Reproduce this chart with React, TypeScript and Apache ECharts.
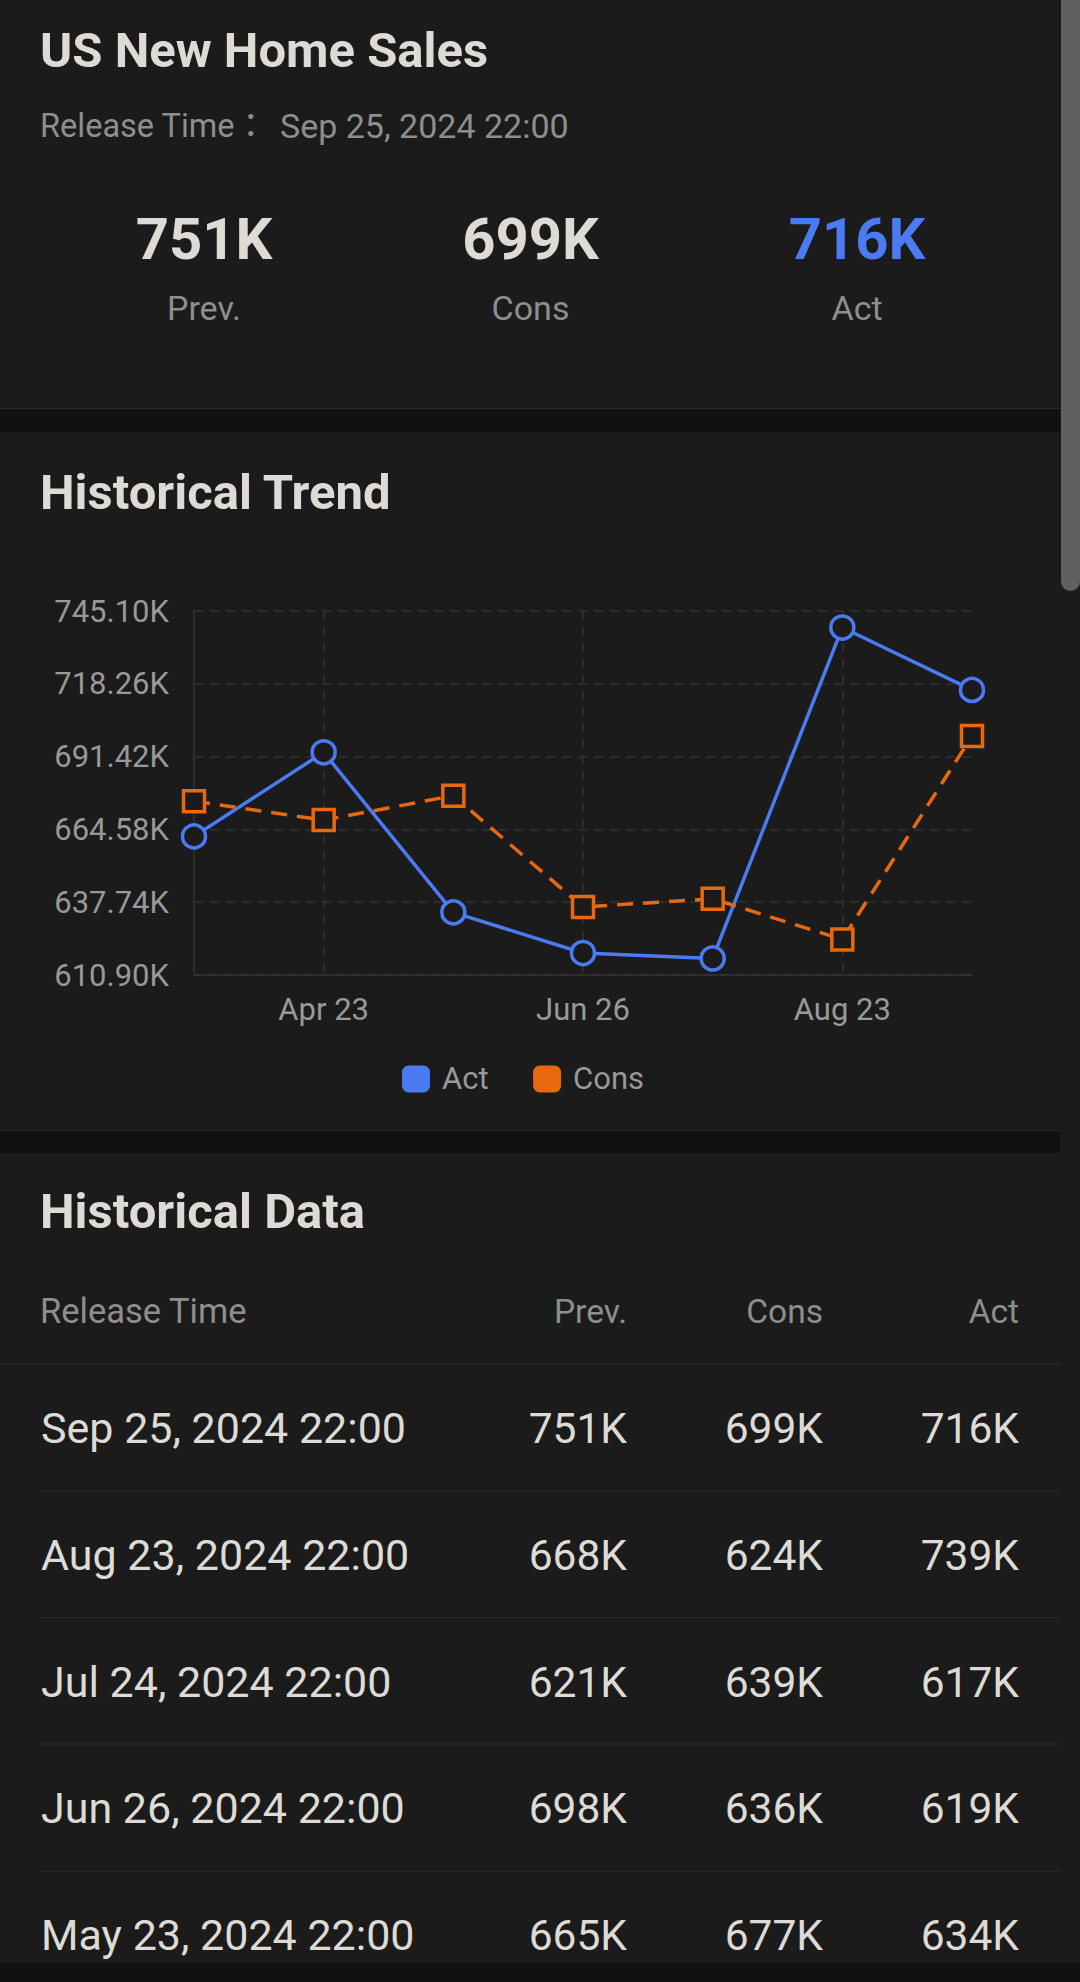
import React, { useEffect, useRef } from "react";
import * as echarts from "echarts";

// ---------- data ----------
const pageTitle = "US New Home Sales";
const releaseLabel = "Release Time：";
const releaseValue = "Sep 25, 2024 22:00";
const summaryLabels = ["Prev.", "Cons", "Act"];
const summaryValues = ["751K", "699K", "716K"];

const releaseDates = ["Mar 25", "Apr 23", "May 23", "Jun 26", "Jul 24", "Aug 23", "Sep 25"];
const actValues = [662000, 693000, 634000, 619000, 617000, 739000, 716000];
const consValues = [675000, 668000, 677000, 636000, 639000, 624000, 699000];
const yAxisMin = 610900;
const yAxisMax = 745100;
const yAxisStep = 26840;

const tableHeaders = ["Release Time", "Prev.", "Cons", "Act"];
const tableDates = [
  "Sep 25, 2024 22:00",
  "Aug 23, 2024 22:00",
  "Jul 24, 2024 22:00",
  "Jun 26, 2024 22:00",
  "May 23, 2024 22:00",
];
const tablePrev = ["751K", "668K", "621K", "698K", "665K"];
const tableCons = ["699K", "624K", "639K", "636K", "677K"];
const tableAct = ["716K", "739K", "617K", "619K", "634K"];

// ---------- styles ----------
const FONT = "Roboto, 'Noto Sans CJK JP', sans-serif";
const BAND = "#111112";
const CARD = "#1b1b1b";
const TEXT = "#dedbd6";
const MUTED = "#8e8e8e";
const AXIS_TEXT = "#999999";
const BLUE = "#4b7bf3";
const ORANGE = "#e8680f";
const GRID = "#333333";
const ROWLINE = "#272727";

function txt(text: string, x: number, y: number, font: string, fill: string, align = "left") {
  return {
    type: "text",
    x,
    y,
    z: 10,
    silent: true,
    style: {
      text,
      font,
      fill,
      align,
      verticalAlign: "middle",
      textAlign: align,
      textVerticalAlign: "middle",
    },
  };
}

function rect(x: number, y: number, w: number, h: number, fill: string, r: any = 0) {
  return { type: "rect", z: -10, silent: true, shape: { x, y, width: w, height: h, r }, style: { fill } };
}

function hline(x1: number, x2: number, y: number, stroke: string, w = 1.5) {
  return { type: "line", z: -5, silent: true, shape: { x1, y1: y, x2, y2: y }, style: { stroke, lineWidth: w } };
}

export default function App() {
  const ref = useRef<HTMLDivElement>(null);

  useEffect(() => {
    if (!ref.current) return;
    const chart = echarts.init(ref.current, undefined, { renderer: "svg" });

    const colCenters = [204, 530.5, 857];
    const rowCenters = [1428, 1555, 1682, 1808, 1935];
    const rowLines = [1491, 1617.5, 1744, 1871];
    const colRights = [627, 823, 1019];

    const elements: any[] = [
      rect(0, 0, 1080, 1982, BAND),
      rect(0, 0, 1060, 408, CARD),
      rect(0, 432, 1060, 698, CARD),
      rect(0, 1153, 1060, 810, CARD),
      rect(1060, 0, 20, 1963, CARD),
      rect(1061, -20, 19, 611, "#606060", [0, 0, 9.5, 9.5]),
      hline(0, 1060, 408.5, "#262626", 1),
      hline(0, 1060, 1130.5, "#262626", 1),
      txt(pageTitle, 40, 50, `bold 49px ${FONT}`, TEXT),
      txt(releaseLabel, 40, 126, `32.5px ${FONT}`, MUTED),
      txt(releaseValue, 280, 126, `34px ${FONT}`, MUTED),
      txt("Historical Trend", 40, 492.5, `bold 49px ${FONT}`, TEXT),
      txt("Historical Data", 40, 1211, `bold 49px ${FONT}`, TEXT),
      hline(0, 1060, 1364, ROWLINE),
    ];

    summaryValues.forEach((v, i) => {
      elements.push(txt(v, colCenters[i], 238.5, `bold 58px ${FONT}`, i === 2 ? BLUE : TEXT, "center"));
      elements.push(txt(summaryLabels[i], colCenters[i], 308, `34px ${FONT}`, MUTED, "center"));
    });

    elements.push(txt(tableHeaders[0], 40, 1311, `34.5px ${FONT}`, MUTED));
    for (let i = 1; i < tableHeaders.length; i++) {
      elements.push(txt(tableHeaders[i], colRights[i - 1], 1311, `33.5px ${FONT}`, MUTED, "right"));
    }
    rowLines.forEach((y) => elements.push(hline(40, 1060, y, ROWLINE)));
    tableDates.forEach((d, i) => {
      const y = rowCenters[i];
      elements.push(txt(d, 41, y, `43px ${FONT}`, TEXT));
      elements.push(txt(tablePrev[i], colRights[0], y, `42.5px ${FONT}`, TEXT, "right"));
      elements.push(txt(tableCons[i], colRights[1], y, `42.5px ${FONT}`, TEXT, "right"));
      elements.push(txt(tableAct[i], colRights[2], y, `42.5px ${FONT}`, TEXT, "right"));
    });

    const oddOnly = (idx: number) => idx % 2 === 1;

    chart.setOption({
      animation: false,
      backgroundColor: BAND,
      graphic: { elements },
      grid: { left: 194, top: 611, width: 778, height: 364, containLabel: false },
      legend: {
        left: 397,
        top: 1058.5,
        icon: "roundRect",
        itemWidth: 28,
        itemHeight: 27,
        itemGap: 44.5,
        textStyle: { color: AXIS_TEXT, fontSize: 31, fontFamily: FONT, padding: [0, 0, 0, 7] },
        data: [
          { name: "Act", itemStyle: { color: BLUE, borderWidth: 0 } },
          { name: "Cons", itemStyle: { color: ORANGE, borderWidth: 0 } },
        ],
      },
      xAxis: {
        type: "category",
        data: releaseDates,
        boundaryGap: false,
        axisTick: { show: false },
        axisLine: { show: true, lineStyle: { color: GRID, width: 1.5 } },
        axisLabel: {
          interval: oddOnly,
          color: AXIS_TEXT,
          fontSize: 31,
          fontFamily: FONT,
          margin: 18.5,
        },
        splitLine: {
          show: true,
          interval: oddOnly,
          lineStyle: { color: GRID, width: 1.5, type: [9, 7] },
        },
      },
      yAxis: {
        type: "value",
        min: yAxisMin,
        max: yAxisMax,
        interval: yAxisStep,
        axisTick: { show: false },
        axisLine: { show: true, lineStyle: { color: GRID, width: 1.5 } },
        axisLabel: {
          color: AXIS_TEXT,
          fontSize: 31,
          fontFamily: FONT,
          margin: 25,
          formatter: (v: number) => (v / 1000).toFixed(2) + "K",
        },
        splitLine: { show: true, lineStyle: { color: GRID, width: 1.5, type: [9, 7] } },
      },
      series: [
        {
          name: "Act",
          type: "line",
          data: actValues,
          symbol: "circle",
          symbolSize: 23,
          showAllSymbol: true,
          z: 3,
          lineStyle: { color: BLUE, width: 3.5 },
          itemStyle: { color: CARD, borderColor: BLUE, borderWidth: 3.5 },
        },
        {
          name: "Cons",
          type: "line",
          data: consValues,
          symbol: "rect",
          symbolSize: 21,
          showAllSymbol: true,
          z: 4,
          lineStyle: { color: ORANGE, width: 3.5, type: [16, 10] },
          itemStyle: { color: CARD, borderColor: ORANGE, borderWidth: 3.5 },
        },
      ],
    });

    return () => chart.dispose();
  }, []);

  return (
    <div
      ref={ref}
      style={{ position: "absolute", left: 0, top: 0, width: 1080, height: 1982, overflow: "hidden" }}
    />
  );
}
